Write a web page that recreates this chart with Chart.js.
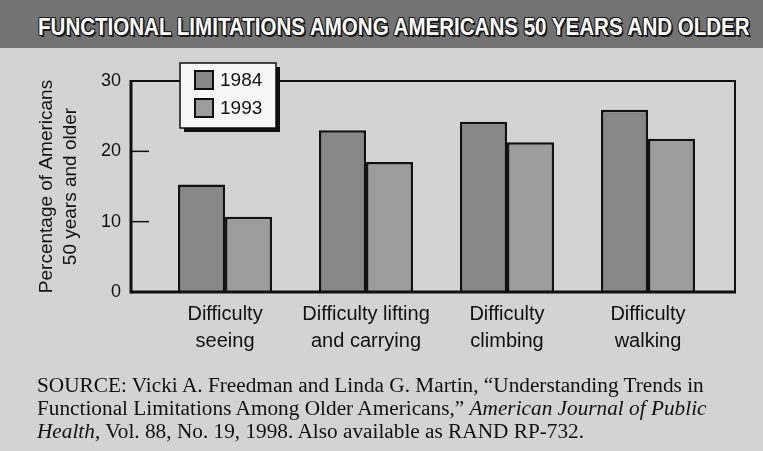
<!DOCTYPE html>
<html>
<head>
<meta charset="utf-8">
<script src="https://cdn.jsdelivr.net/npm/chart.js@4.4.1/dist/chart.umd.min.js"></script>
<style>
html, body { margin: 0; padding: 0; }
body { width: 763px; height: 451px; background: #d3d3d3; position: relative; overflow: hidden; }
#titulo { position: absolute; left: 0; top: 0; width: 763px; height: 48px; background: #737373; }
#titulo span { position: absolute; left: 38px; top: 13px; line-height: 24px; font: bold 24px "Liberation Sans", "DejaVu Sans", sans-serif; color: #fff; text-shadow: -1px -1px 0 #1a1a1a, 1px -1px 0 #1a1a1a, -1px 1px 0 #1a1a1a, 1px 1px 0 #1a1a1a, 0 -1px 0 #1a1a1a, 0 1px 0 #1a1a1a, -1px 0 0 #1a1a1a, 1px 0 0 #1a1a1a, 2px 2px 0 #1a1a1a; white-space: nowrap; transform-origin: 0 0; }
#grafico { position: absolute; left: 0; top: 0; }
.fonte { position: absolute; left: 37px; font: 20px/20px "Liberation Serif", "Times New Roman", serif; color: #111; white-space: nowrap; transform-origin: 0 0; }
</style>
</head>
<body>
<div id="titulo"><span>FUNCTIONAL LIMITATIONS AMONG AMERICANS 50 YEARS AND OLDER</span></div>
<canvas id="grafico" width="763" height="451"></canvas>
<div class="fonte" style="top:375px">SOURCE: Vicki A. Freedman and Linda G. Martin, “Understanding Trends in</div>
<div class="fonte" style="top:398px">Functional Limitations Among Older Americans,” <i>American Journal of Public</i></div>
<div class="fonte" style="top:421px"><i>Health</i>, Vol. 88, No. 19, 1998. Also available as RAND RP-732.</div>
<script>
// Dados do gráfico
const categorias = [['Difficulty', 'seeing'], ['Difficulty lifting', 'and carrying'], ['Difficulty', 'climbing'], ['Difficulty', 'walking']];
const anos = ['1984', '1993'];
const valores1984 = [15.3, 23.0, 24.2, 25.9];
const valores1993 = [10.7, 18.5, 21.3, 21.8];
const ticksY = [0, 10, 20, 30];

const coresBarras = ['#878787', '#9c9c9c'];

// Ajustar largura do título e das linhas da fonte
function ajustarTextos() {
    const t = document.querySelector('#titulo span');
    t.style.transform = 'scaleX(' + (712 / t.offsetWidth) + ')';
    const linhas = document.querySelectorAll('.fonte');
    const escala = 667 / linhas[0].offsetWidth;
    linhas.forEach(l => { l.style.transform = 'scaleX(' + escala + ')'; });
}

// Moldura, marcas internas do eixo e legenda
const molduraPlugin = {
    id: 'moldura',
    afterDatasetsDraw(chart) {
        const { ctx, chartArea: { left, right, top, bottom }, scales: { y } } = chart;
        const linha = (x1, y1, x2, y2) => { ctx.beginPath(); ctx.moveTo(x1, y1); ctx.lineTo(x2, y2); ctx.stroke(); };
        ctx.save();
        ctx.strokeStyle = '#111';
        ctx.lineWidth = 2;
        linha(left, top, right + 1, top);
        linha(right, top, right, bottom);
        ctx.lineWidth = 3;
        linha(left, top - 1, left, bottom + 1.5);
        linha(left, bottom, right + 1, bottom);
        ticksY.slice(1, -1).forEach(v => {
            const py = y.getPixelForValue(v);
            ctx.lineWidth = 1.5;
            linha(left, py, left + 18, py);
        });

        // legenda
        const lx = left + 49, ly = top - 18, lw = 96, lh = 65;
        ctx.fillStyle = '#111';
        ctx.fillRect(lx + 4, ly + 4, lw, lh);
        ctx.fillStyle = '#f7f7f7';
        ctx.fillRect(lx, ly, lw, lh);
        ctx.lineWidth = 1.5;
        ctx.strokeRect(lx, ly, lw, lh);
        chart.data.datasets.forEach((ds, i) => {
            const sy = ly + 8 + i * 28;
            ctx.fillStyle = ds.backgroundColor;
            ctx.fillRect(lx + 15, sy, 18, 18);
            ctx.lineWidth = 2;
            ctx.strokeRect(lx + 15, sy, 18, 18);
            ctx.fillStyle = '#111';
            ctx.font = '19px "Liberation Sans", Arial, sans-serif';
            ctx.textBaseline = 'middle';
            ctx.fillText(ds.label, lx + 40, sy + 10);
        });
        ctx.restore();
    }
};

document.addEventListener('DOMContentLoaded', () => {
    ajustarTextos();
    const ctx = document.getElementById('grafico').getContext('2d');
    new Chart(ctx, {
        type: 'bar',
        data: {
            datasets: [
                { label: anos[0], data: valores1984.map((v, i) => ({ x: i, y: v })), backgroundColor: coresBarras[0] },
                { label: anos[1], data: valores1993.map((v, i) => ({ x: i, y: v })), backgroundColor: coresBarras[1] }
            ]
        },
        options: {
            responsive: false,
            animation: false,
            layout: { padding: { top: 81, right: 28, left: 0, bottom: 0 } },
            datasets: {
                bar: { borderColor: '#111', borderWidth: 2.5, barPercentage: 1, categoryPercentage: 0.667 }
            },
            plugins: { legend: { display: false }, tooltip: { enabled: false } },
            scales: {
                x: {
                    type: 'linear', min: -0.667, max: 3.617, offset: false,
                    afterBuildTicks: s => { s.ticks = categorias.map((c, i) => ({ value: i })); },
                    ticks: {
                        callback: v => categorias[v],
                        font: { family: '"Liberation Sans", Arial, sans-serif', size: 20, lineHeight: 1.35 },
                        color: '#111', padding: 9, autoSkip: false, maxRotation: 0
                    },
                    grid: { display: false, drawTicks: false },
                    border: { display: false },
                    afterFit: s => { s.height = 159; }
                },
                y: {
                    min: 0, max: 30,
                    afterBuildTicks: s => { s.ticks = ticksY.map(v => ({ value: v })); },
                    ticks: { font: { family: '"Liberation Sans", Arial, sans-serif', size: 18 }, color: '#111', padding: 10 },
                    grid: { display: false, drawTicks: false },
                    border: { display: false },
                    title: {
                        display: true,
                        text: ['Percentage of Americans', '50 years and older'],
                        font: { family: '"Liberation Sans", Arial, sans-serif', size: 19, lineHeight: 1.26 },
                        color: '#111', padding: { top: 35, bottom: 0 }
                    },
                    afterFit: s => { s.width = 131; }
                }
            }
        },
        plugins: [molduraPlugin]
    });
});
</script>
</body>
</html>
